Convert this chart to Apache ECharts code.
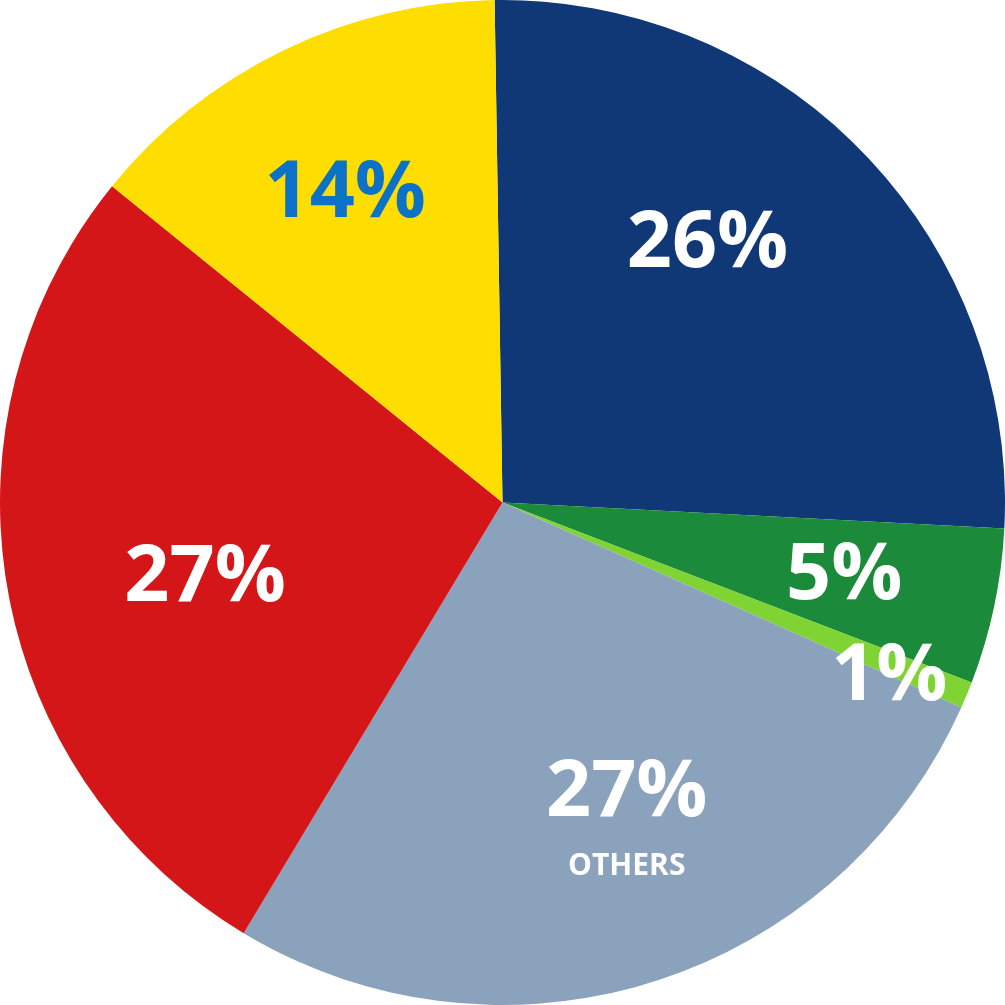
<!DOCTYPE html>
<html>
<head>
<meta charset="utf-8">
<script src="https://cdn.jsdelivr.net/npm/echarts@6/dist/echarts.min.js"></script>
<style>
html,body{margin:0;padding:0;background:#ffffff;}
#chart{width:1005px;height:1005px;}
</style>
</head>
<body>
<div id="chart"></div>
<script>
// Data (clockwise from 12 o'clock)
const categories = ['Navy', 'Green', 'Light green', 'Others', 'Red', 'Yellow'];
const values = [26.05, 5.0, 0.86, 26.9, 27.2, 13.9];
const percentLabels = ['26%', '5%', '1%', '27%', '27%', '14%'];
const subLabels = ['', '', '', 'OTHERS', '', ''];

const colors = ['#103877', '#1b8a3a', '#7fd332', '#8ba2bc', '#d41619', '#fedd00'];
const labelColors = ['#ffffff', '#ffffff', '#ffffff', '#ffffff', '#ffffff', '#0b72c8'];
const labelOffsets = [[22, -81], [93, 21], [152, 78], [48, 76], [-47, 32], [-46, -79]];

const chart = echarts.init(document.getElementById('chart'), null, {renderer: 'canvas'});

const seriesData = categories.map((name, i) => ({
  name: name,
  value: values[i],
  itemStyle: {color: colors[i]},
  label: {
    offset: labelOffsets[i],
    formatter: subLabels[i] ? '{a|' + percentLabels[i] + '}\n{b|' + subLabels[i] + '}' : '{a|' + percentLabels[i] + '}',
    rich: {
      a: {color: labelColors[i], fontSize: 79, fontWeight: 'bold', fontFamily: 'Open Sans', lineHeight: subLabels[i] ? 90 : 80, align: 'center'},
      b: {color: labelColors[i], fontSize: 30, fontWeight: 'bold', fontFamily: 'Open Sans', lineHeight: 56, align: 'center'}
    }
  }
}));

chart.setOption({
  animation: false,
  backgroundColor: '#ffffff',
  series: [{
    type: 'pie',
    center: ['50%', '50%'],
    radius: ['0%', '100%'],
    startAngle: 90.9,
    clockwise: true,
    avoidLabelOverlap: false,
    label: {show: true, position: 'inside'},
    labelLine: {show: false},
    itemStyle: {borderWidth: 0},
    emphasis: {disabled: true},
    data: seriesData
  }]
});
</script>
</body>
</html>
